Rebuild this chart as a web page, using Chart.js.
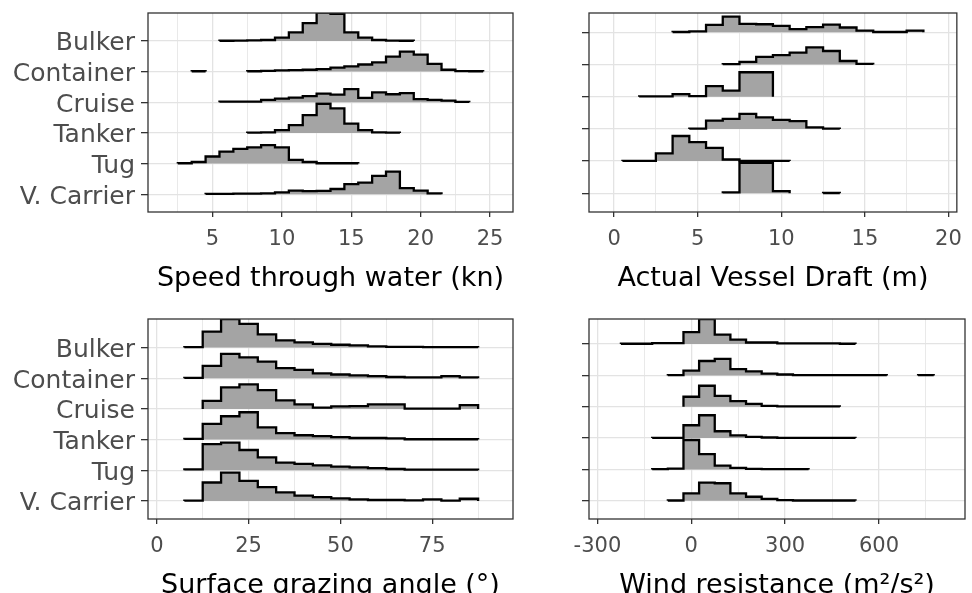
<!DOCTYPE html>
<html>
<head>
<meta charset="utf-8">
<script src="https://cdn.jsdelivr.net/npm/chart.js@4.4.1/dist/chart.umd.min.js"></script>
<style>
  html, body { margin: 0; padding: 0; background: #fff; overflow: hidden; width: 972px; height: 593px; }
  canvas { position: absolute; }
</style>
</head>
<body>
<canvas id="speed" width="520" height="295" style="left:0;top:0"></canvas>
<canvas id="draft" width="452" height="295" style="left:520px;top:0"></canvas>
<canvas id="graze" width="520" height="306" style="left:0;top:296px"></canvas>
<canvas id="wind" width="452" height="306" style="left:520px;top:296px"></canvas>
<script>
// vessel types, top ridge first
const categories = ['Bulker', 'Container', 'Cruise', 'Tanker', 'Tug', 'V. Carrier'];

// speed through water, 1 kn bins; first bin edge per type; null = empty bin
const speedBin = 1;
const speedStart = [5.5, 3.5, 5.5, 7.5, 2.5, 4.5];
const speedHeights = [
  [0.005, 0.01, 0.015, 0.03, 0.11, 0.28, 0.58, 0.92, 0.88, 0.28, 0.11, 0.03, 0.01, 0.005],
  [0.01, null, null, null, 0.01, 0.02, 0.04, 0.05, 0.06, 0.08, 0.13, 0.17, 0.23, 0.3, 0.49, 0.65, 0.55, 0.25, 0.06, 0.015, 0.01],
  [0.02, 0.02, 0.02, 0.08, 0.12, 0.15, 0.2, 0.28, 0.25, 0.43, 0.14, 0.32, 0.26, 0.3, 0.1, 0.08, 0.05, 0.01],
  [0.01, 0.02, 0.09, 0.25, 0.58, 0.95, 0.8, 0.3, 0.09, 0.02, 0.01],
  [0.01, 0.05, 0.23, 0.39, 0.48, 0.53, 0.6, 0.53, 0.12, 0.05, 0.01, 0.01, 0.01],
  [0.01, 0.01, 0.02, 0.02, 0.03, 0.06, 0.12, 0.1, 0.11, 0.17, 0.33, 0.38, 0.6, 0.74, 0.2, 0.12, 0.03]
];
const speedTicks = [2.5, 5, 7.5, 10, 12.5, 15, 17.5, 20, 22.5, 25];
const speedLabels = [5, 10, 15, 20, 25];

// actual vessel draft, 1 m bins
const draftBin = 1;
const draftStart = [3.5, 6.5, 1.5, 4.5, 0.5, 6.5];
const draftHeights = [
  [0.01, 0.03, 0.23, 0.49, 0.26, 0.25, 0.2, 0.1, 0.16, 0.24, 0.15, 0.05, 0.01, 0.01, 0.05],
  [0.01, 0.08, 0.24, 0.29, 0.37, 0.53, 0.42, 0.11, 0.02],
  [0.01, 0.01, 0.08, 0.02, 0.33, 0.19, 0.76, 0.76],
  [0.01, 0.26, 0.31, 0.47, 0.36, 0.28, 0.24, 0.05, 0.01],
  [0.01, 0.01, 0.24, 0.78, 0.59, 0.41, 0.05, 0.01, 0.01, 0.01],
  [0.03, 0.95, 0.95, 0.07, null, null, 0.01]
];
const draftTicks = [0, 2.5, 5, 7.5, 10, 12.5, 15, 17.5, 20];
const draftLabels = [0, 5, 10, 15, 20];

// surface grazing angle, 5 degree bins
const grazeBin = 5;
const grazeStart = [7.5, 7.5, 12.5, 7.5, 7.5, 7.5];
const grazeHeights = [
  [0.01, 0.52, 0.93, 0.77, 0.43, 0.23, 0.17, 0.12, 0.09, 0.07, 0.04, 0.02, 0.02, 0.015, 0.01, 0.01],
  [0.01, 0.4, 0.79, 0.68, 0.54, 0.33, 0.27, 0.16, 0.12, 0.09, 0.07, 0.04, 0.03, 0.03, 0.07, 0.03],
  [0.26, 0.7, 0.8, 0.61, 0.28, 0.15, 0.04, 0.08, 0.09, 0.15, 0.15, 0.01, 0.01, 0.01, 0.12],
  [0.02, 0.51, 0.76, 0.89, 0.4, 0.21, 0.14, 0.11, 0.08, 0.05, 0.05, 0.04, 0.01, 0.01, 0.01, 0.01],
  [0.03, 0.85, 0.9, 0.66, 0.42, 0.25, 0.21, 0.16, 0.12, 0.09, 0.07, 0.04, 0.02, 0.02, 0.02, 0.02],
  [0.01, 0.6, 0.92, 0.65, 0.45, 0.28, 0.17, 0.12, 0.08, 0.05, 0.03, 0.03, 0.02, 0.05, 0.01, 0.07]
];
const grazeTicks = [0, 12.5, 25, 37.5, 50, 62.5, 75, 87.5];
const grazeLabels = [0, 25, 50, 75];

// wind resistance, 50 m²/s² bins
const windBin = 50;
const windStart = [-225, -75, -25, -125, -125, -75];
const windHeights = [
  [0.01, 0.01, 0.03, 0.03, 0.38, 0.8, 0.3, 0.14, 0.05, 0.05, 0.02, 0.02, 0.02, 0.02, 0.01],
  [0.01, 0.15, 0.46, 0.53, 0.2, 0.13, 0.06, 0.03, 0.01, 0.01, 0.01, 0.01, 0.01, 0.01, null, null, 0.01],
  [0.32, 0.67, 0.35, 0.18, 0.09, 0.03, 0.01, 0.01, 0.01, 0.01],
  [0.01, 0.01, 0.41, 0.73, 0.22, 0.09, 0.04, 0.02, 0.01, 0.01, 0.01, 0.01, 0.01],
  [0.01, 0.03, 0.94, 0.49, 0.12, 0.05, 0.02, 0.01, 0.01, 0.01],
  [0.01, 0.24, 0.58, 0.56, 0.24, 0.13, 0.06, 0.02, 0.01, 0.01, 0.01, 0.01]
];
const windTicks = [-300, -150, 0, 150, 300, 450, 600, 750];
const windLabels = [-300, 0, 300, 600];

const FONT = 'DejaVu Sans';

// outline of one histogram ridge, sitting on its baseline
function binPoints(start, width, heights, base) {
  const pts = [];
  heights.forEach((h, k) => {
    if (h === null) return;
    const x0 = start + k * width, x1 = x0 + width;
    if (k === 0 || heights[k - 1] === null) pts.push({x: x0, y: base});
    pts.push({x: x0, y: base + h}, {x: x1, y: base + h});
    if (k === heights.length - 1 || heights[k + 1] === null) {
      pts.push({x: x1, y: base});
      if (k < heights.length - 1) pts.push({x: x1, y: null});
    }
  });
  return pts;
}

const frame = {
  id: 'frame',
  afterDraw(chart) {
    const {ctx, chartArea: a} = chart;
    ctx.save();
    ctx.strokeStyle = '#333';
    ctx.lineWidth = 1.3;
    ctx.strokeRect(a.left, a.top, a.right - a.left, a.bottom - a.top);
    ctx.restore();
  }
};

function ridgeChart(id, o) {
  const n = categories.length;
  const datasets = categories.map((cat, i) => ({
    label: cat,
    data: binPoints(o.start[i], o.bin, o.heights[i], n - i),
    borderColor: '#000',
    borderWidth: 2.3,
    backgroundColor: '#a4a4a4',
    fill: {value: n - i},
    pointRadius: 0,
    tension: 0,
    spanGaps: false,
    order: n - i
  }));
  const isMajor = v => o.labels.some(l => Math.abs(l - v) < 1e-9);
  new Chart(document.getElementById(id), {
    type: 'line',
    data: {datasets},
    plugins: [frame],
    options: {
      responsive: false,
      animation: false,
      layout: {padding: {top: o.top, right: 7, left: 0, bottom: 0}},
      plugins: {legend: {display: false}, tooltip: {enabled: false}},
      scales: {
        x: {
          type: 'linear',
          min: o.min,
          max: o.max,
          afterBuildTicks: s => { s.ticks = o.ticks.map(v => ({value: v})); },
          afterFit: s => { s.height = 83; },
          border: {display: false},
          grid: {
            color: '#e3e3e3',
            lineWidth: c => isMajor(c.tick.value) ? 1.3 : 0.8,
            tickLength: 5,
            tickColor: c => isMajor(c.tick.value) ? '#333' : 'rgba(0,0,0,0)'
          },
          ticks: {
            autoSkip: false,
            maxRotation: 0,
            padding: 10,
            color: '#4d4d4d',
            font: {family: FONT, size: 21},
            callback: v => isMajor(v) ? String(v) : ''
          },
          title: {
            display: true,
            text: o.title,
            color: '#000',
            padding: 0,
            font: {family: FONT, size: 27}
          }
        },
        y: {
          type: 'linear',
          min: o.ymin,
          max: o.ymax,
          afterBuildTicks: s => { s.ticks = categories.map((c, i) => ({value: n - i})); },
          afterFit: s => { s.width = o.yWidth; s.paddingTop = 0; s.paddingBottom = 0; },
          border: {display: false},
          grid: {color: '#e3e3e3', lineWidth: 1.3, tickLength: 7, tickColor: '#333'},
          ticks: {
            padding: 6,
            labelOffset: 3,
            color: '#4d4d4d',
            font: {family: FONT, size: 25},
            callback: v => o.yLabels ? categories[n - Math.round(v)] : ''
          }
        }
      }
    }
  });
}

ridgeChart('speed', {
  start: speedStart, bin: speedBin, heights: speedHeights, ticks: speedTicks, labels: speedLabels,
  min: 0.35, max: 26.65, ymin: 0.42, ymax: 6.91, top: 13, yWidth: 148, yLabels: true,
  title: 'Speed through water (kn)'
});
ridgeChart('draft', {
  start: draftStart, bin: draftBin, heights: draftHeights, ticks: draftTicks, labels: draftLabels,
  min: -1.5, max: 20.5, ymin: 0.42, ymax: 6.6, top: 13, yWidth: 69, yLabels: false,
  title: 'Actual Vessel Draft (m)'
});
ridgeChart('graze', {
  start: grazeStart, bin: grazeBin, heights: grazeHeights, ticks: grazeTicks, labels: grazeLabels,
  min: -2.4, max: 97, ymin: 0.41, ymax: 6.93, top: 23, yWidth: 148, yLabels: true,
  title: 'Surface grazing angle (°)'
});
ridgeChart('wind', {
  start: windStart, bin: windBin, heights: windHeights, ticks: windTicks, labels: windLabels,
  min: -327, max: 875, ymin: 0.42, ymax: 6.8, top: 23, yWidth: 69, yLabels: false,
  title: 'Wind resistance (m²/s²)'
});
</script>
</body>
</html>
